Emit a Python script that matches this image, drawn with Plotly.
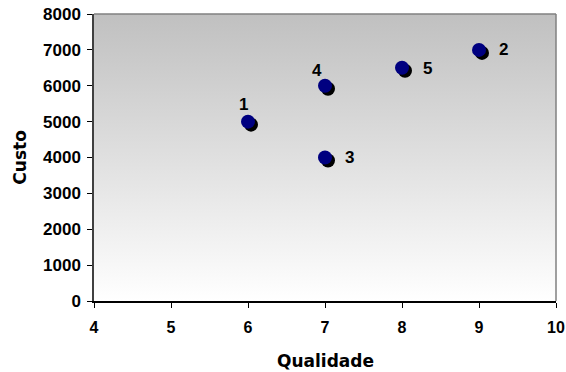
import plotly.graph_objects as go

qualidade = [6, 9, 7, 7, 8]
custo = [5000, 7000, 4000, 6000, 6500]
rotulos = ["1", "2", "3", "4", "5"]

x_range = [4, 10]
y_range = [0, 8000]
x_ticks = [4, 5, 6, 7, 8, 9, 10]
y_ticks = [0, 1000, 2000, 3000, 4000, 5000, 6000, 7000, 8000]

# label placement (pixels) relative to each point
lab_anchor = ["center", "left", "left", "center", "left"]
lab_dx = [-5, 18, 18, -8, 19]
lab_dy = [17, 0, 0, 15, -1]

W, H = 566, 372
ml, mr, mt, mb = 94, 10, 14, 71
pw, ph = W - ml - mr, H - mt - mb
dx = 3 * (x_range[1] - x_range[0]) / pw
dy = 3 * (y_range[1] - y_range[0]) / ph

FONT = "Liberation Sans, Arial, sans-serif"
TFONT = "DejaVu Sans, sans-serif"

fig = go.Figure()
fig.add_trace(go.Scatter(
    x=[x_range[0], x_range[1], x_range[1], x_range[0]],
    y=[y_range[0], y_range[0], y_range[1], y_range[1]],
    fill="toself", mode="none",
    fillgradient=dict(type="vertical", colorscale=[[0, "#ffffff"], [1, "#c0c0c0"]]),
    hoverinfo="skip", showlegend=False))
fig.add_trace(go.Scatter(
    x=[q + dx for q in qualidade], y=[c - dy for c in custo], mode="markers",
    marker=dict(size=14, color="#000000"), hoverinfo="skip", showlegend=False))
fig.add_trace(go.Scatter(
    x=qualidade, y=custo, mode="markers",
    marker=dict(size=14, color="#000080"), showlegend=False))

shapes = []
for v in y_ticks[1:-1]:
    shapes.append(dict(type="line", xref="paper", x0=0, x1=1, yref="y", y0=v, y1=v,
                       line=dict(color="#000000", width=1), layer="below"))
shapes += [
    dict(type="line", xref="paper", yref="paper", x0=0, x1=1, y0=1, y1=1,
         line=dict(color="#808080", width=1.5)),
    dict(type="line", xref="paper", yref="paper", x0=1, x1=1, y0=0, y1=1,
         line=dict(color="#808080", width=1.5)),
]

annotations = []
for q, c, t, a, sx, sy in zip(qualidade, custo, rotulos, lab_anchor, lab_dx, lab_dy):
    annotations.append(dict(x=q, y=c, text=t, showarrow=False, xanchor=a, yanchor="middle",
                            xshift=sx, yshift=sy,
                            font=dict(family=FONT, size=17, color="#000000", weight="bold")))
annotations += [
    dict(text="Qualidade", xref="paper", yref="paper", x=0.5, y=-0.21, xanchor="center",
         yanchor="middle", showarrow=False,
         font=dict(family=TFONT, size=17, color="#000000", weight="bold")),
    dict(text="Custo", xref="paper", yref="paper", x=-0.162, y=0.5, xanchor="center",
         yanchor="middle", showarrow=False, textangle=-90,
         font=dict(family=TFONT, size=17, color="#000000", weight="bold")),
]

fig.update_layout(
    width=W, height=H, autosize=False,
    margin=dict(l=ml, r=mr, t=mt, b=mb, autoexpand=False),
    paper_bgcolor="white", plot_bgcolor="white",
    font=dict(family=FONT, size=16, color="#000000", weight="bold"),
    xaxis=dict(range=x_range, tickvals=x_ticks, showgrid=False, zeroline=False,
               showline=True, linecolor="#000000", linewidth=1.5, automargin=False,
               ticks="outside", ticklen=5, tickcolor="#000000", ticklabelstandoff=6,
               tickfont=dict(family=FONT, size=16, color="#000000", weight="bold")),
    yaxis=dict(range=y_range, tickvals=y_ticks, showgrid=False, zeroline=False,
               showline=True, linecolor="#404040", linewidth=1.5, automargin=False,
               ticks="outside", ticklen=5, tickcolor="#000000", ticklabelstandoff=3,
               tickfont=dict(family=FONT, size=17, color="#000000", weight="bold")),
    shapes=shapes,
    annotations=annotations,
)

fig.write_html("out.html")
